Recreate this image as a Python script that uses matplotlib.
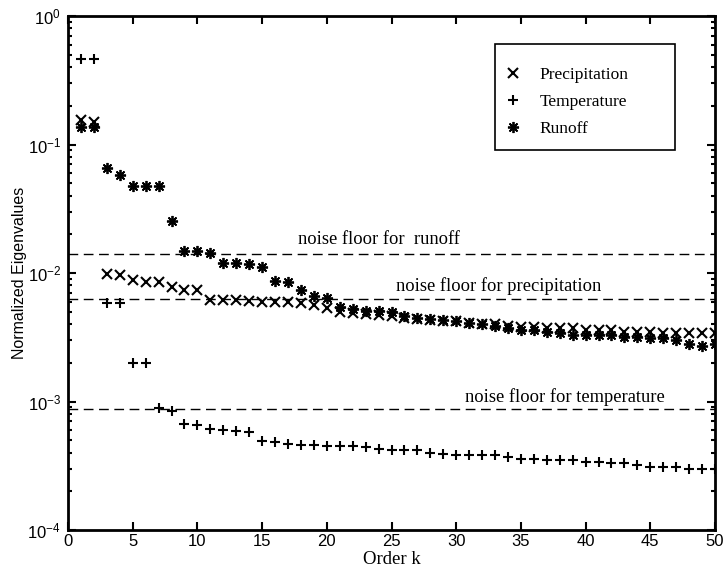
import matplotlib
matplotlib.use("Agg")
import matplotlib.pyplot as plt
from matplotlib.patches import Rectangle
from matplotlib.ticker import FixedLocator, FixedFormatter, LogLocator, NullFormatter
import numpy as np

# ---------------- data ----------------
order_k = list(range(1, 51))

precipitation = [0.155, 0.150, 0.0098, 0.0097, 0.0088, 0.0085, 0.0085, 0.0078, 0.0074, 0.0074,
                 0.0062, 0.0062, 0.0062, 0.0061, 0.0060, 0.0060, 0.0059, 0.0058, 0.0056, 0.0053,
                 0.0050, 0.0049, 0.0048, 0.0047, 0.0046, 0.0045, 0.0044, 0.0043, 0.0042, 0.0042,
                 0.0041, 0.0040, 0.0040, 0.0039, 0.0038, 0.0038, 0.0037, 0.0037, 0.0037, 0.0036,
                 0.0036, 0.0036, 0.0035, 0.0035, 0.0035, 0.0034, 0.0034, 0.0034, 0.0034, 0.0034]

temperature = [0.46, 0.46, 0.0058, 0.0058, 0.0020, 0.0020, 0.00089, 0.00085, 0.000665, 0.00066,
               0.00061, 0.00060, 0.00059, 0.00058, 0.00049, 0.00048, 0.00047, 0.00046, 0.00046, 0.00045,
               0.00045, 0.00045, 0.00044, 0.00043, 0.00042, 0.00042, 0.00042, 0.00040, 0.00039, 0.00038,
               0.00038, 0.00038, 0.00038, 0.00037, 0.00036, 0.00036, 0.00035, 0.00035, 0.00035, 0.00034,
               0.00034, 0.00033, 0.00033, 0.00032, 0.00031, 0.00031, 0.00031, 0.00030, 0.00030, 0.00030]

runoff = [0.137, 0.138, 0.0656, 0.058, 0.0475, 0.0475, 0.0475, 0.0255, 0.0148, 0.0148,
          0.0143, 0.0120, 0.0119, 0.0118, 0.0112, 0.0086, 0.0085, 0.0074, 0.0066, 0.0064,
          0.0054, 0.0052, 0.0051, 0.0051, 0.0050, 0.0046, 0.0045, 0.0044, 0.0043, 0.0042,
          0.0041, 0.0040, 0.0039, 0.0037, 0.0036, 0.0036, 0.0035, 0.0034, 0.0033, 0.0033,
          0.0033, 0.0033, 0.0032, 0.0032, 0.0031, 0.0031, 0.0030, 0.0028, 0.0027, 0.0028]

noise_floors = {"runoff": 0.0141, "precipitation": 0.0063, "temperature": 0.00087}
floor_labels = ["noise floor for  runoff", "noise floor for precipitation", "noise floor for temperature"]
floor_label_pos = [(24.0, 0.0182), (33.3, 0.0079), (38.4, 0.00108)]

x_ticks = [0, 5, 10, 15, 20, 25, 30, 35, 40, 45, 50]
y_ticks = [1e-4, 1e-3, 1e-2, 1e-1, 1e0]
y_ticklabels = [r"$\mathregular{10^{-4}}$", r"$\mathregular{10^{-3}}$", r"$\mathregular{10^{-2}}$",
                r"$\mathregular{10^{-1}}$", r"$\mathregular{10^{0}}$"]
series_labels = ["Precipitation", "Temperature", "Runoff"]

# ---------------- figure ----------------
serif = ["Liberation Serif", "DejaVu Serif"]
sans = ["Liberation Sans", "DejaVu Sans"]
plt.rcParams["font.family"] = sans

fig = plt.figure(figsize=(7.25, 5.76), dpi=100)
ax = fig.add_axes([68 / 725, 46 / 576, 647 / 725, 514 / 576])
ax.set_yscale("log")
ax.set_xlim(0, 50)
ax.set_ylim(1e-4, 1e0)

h1, = ax.plot(order_k, precipitation, linestyle="none", marker="x", color="black",
              markersize=6.5, markeredgewidth=1.5)
h2, = ax.plot(order_k, temperature, linestyle="none", marker="+", color="black",
              markersize=7.5, markeredgewidth=1.5)
h3, = ax.plot(order_k, runoff, linestyle="none", marker=(8, 2, 0), color="black",
              markersize=8, markeredgewidth=1.3)

for val in noise_floors.values():
    ax.axhline(val, color="black", linestyle=(0, (7, 4)), linewidth=1.0)

for txt, (xx, yy) in zip(floor_labels, floor_label_pos):
    ax.text(xx, yy, txt, ha="center", va="center", fontsize=13.3, family=serif)

# axes styling
for s in ax.spines.values():
    s.set_linewidth(2.0)
ax.xaxis.set_major_locator(FixedLocator(x_ticks))
ax.yaxis.set_major_locator(FixedLocator(y_ticks))
ax.yaxis.set_major_formatter(FixedFormatter(y_ticklabels))
ax.yaxis.set_minor_locator(LogLocator(base=10, subs=np.arange(2, 10)))
ax.yaxis.set_minor_formatter(NullFormatter())
ax.tick_params(which="both", direction="in", top=True, right=True, width=1.5)
ax.tick_params(which="major", length=6, labelsize=12, pad=5)
ax.tick_params(axis="x", which="major", pad=3)
ax.tick_params(which="minor", length=3)

ax.set_xlabel("Order k", fontsize=13.5, family=serif, labelpad=1)
ax.set_ylabel("Normalized Eigenvalues", fontsize=11.5, labelpad=0)

# legend
leg = ax.legend([h1, h2, h3], series_labels, loc="upper left",
                bbox_to_anchor=(504 / 725, 1 - 67 / 576), bbox_transform=fig.transFigure,
                frameon=False, prop={"family": serif, "size": 12.5},
                handlelength=1.0, handletextpad=1.07, labelspacing=0.62, borderpad=0,
                borderaxespad=0)
fig.patches.append(Rectangle((495 / 725, 1 - 150 / 576), 180 / 725, 106 / 576,
                             transform=fig.transFigure, fill=False, edgecolor="black",
                             linewidth=1.2, zorder=5))

fig.savefig("out.png", dpi=100)
